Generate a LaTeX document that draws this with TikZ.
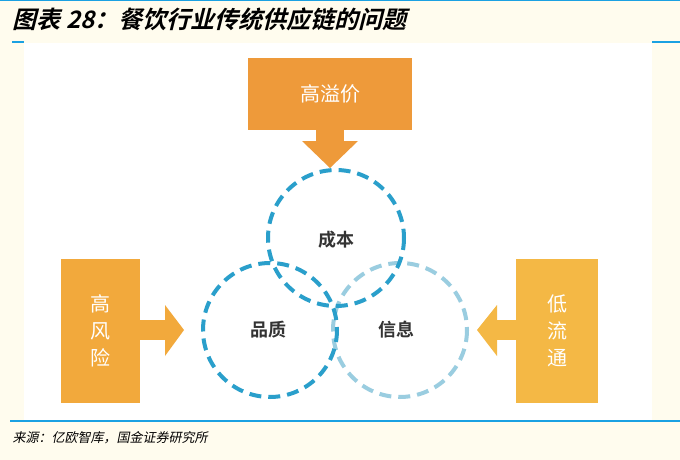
\documentclass[tikz,border=0pt]{standalone}
\usepackage{fontspec}
\newfontfamily\cjk{Noto Sans CJK SC}
\newfontfamily\cjkb{Noto Sans CJK SC Bold}
\definecolor{bg}{HTML}{FFFCEE}
\definecolor{lineblue}{HTML}{1BA1E2}
\definecolor{orA}{HTML}{EE9A3A}
\definecolor{orB}{HTML}{F2A93C}
\definecolor{orC}{HTML}{F4B845}
\definecolor{c1}{HTML}{2A9FCB}
\definecolor{c3}{HTML}{9ACDE0}
\definecolor{txt}{HTML}{333333}
\tikzset{lab/.style={font=\cjkb\fontsize{18}{18}\selectfont,text=txt},
 boxt/.style={font=\cjk\fontsize{20}{24}\selectfont,text=white,align=center},
 ring/.style={line width=4pt,dash pattern=on 12pt off 7pt}}
\begin{document}
\begin{tikzpicture}[x=1pt,y=-1pt]
\fill[bg] (0,0) rectangle (680,460);
\useasboundingbox (0,0) rectangle (680,460);
\fill[white] (24,43) rectangle (652,420);
\draw[lineblue,line width=1pt] (0,1) -- (680,1);
\draw[lineblue,line width=1.2pt] (12,42) -- (24,42);
\draw[lineblue,line width=1.2pt] (652,42) -- (680,42);
\draw[lineblue,line width=1.2pt] (10,421) -- (680,421);
\node[anchor=west,font=\cjkb\fontsize{24}{24}\selectfont,xslant=0.25,inner sep=0] (title) at (15,19) {图表 28：餐饮行业传统供应链的问题};
\node[anchor=west,font=\cjk\fontsize{13}{13}\selectfont,xslant=0.2] (src) at (10,438) {来源：亿欧智库，国金证券研究所};
% top box
\fill[orA] (248,58) rectangle (412,130);
\fill[orA] (316,129) rectangle (344,142);
\fill[orA] (302,141) -- (358,141) -- (330,168) -- cycle;
\node[boxt] (tb) at (330,94) {高溢价};
% left box
\fill[orB] (61,259) rectangle (140,403);
\fill[orB] (139,320) rectangle (166,340);
\fill[orB] (165,305) -- (184,330) -- (165,356) -- cycle;
\node[boxt,font=\cjk\fontsize{20}{27}\selectfont] (lb) at (100,331) {高\\风\\险};
% right box
\fill[orC] (516,259) rectangle (598,403);
\fill[orC] (496,320) rectangle (517,340);
\fill[orC] (497,305) -- (477,330) -- (497,356) -- cycle;
\node[boxt,font=\cjk\fontsize{20}{27}\selectfont] (rb) at (557,331) {低\\流\\通};
% circles
\draw[ring,c3] (400,330) circle (67);
\draw[ring,c1] (270,330) circle (67);
\draw[ring,c1] (336,238) circle (68);
\node[lab] (cb) at (336,240) {成本};
\node[lab] (pz) at (268,330) {品质};
\node[lab] (xx) at (396,330) {信息};
\end{tikzpicture}
\end{document}
